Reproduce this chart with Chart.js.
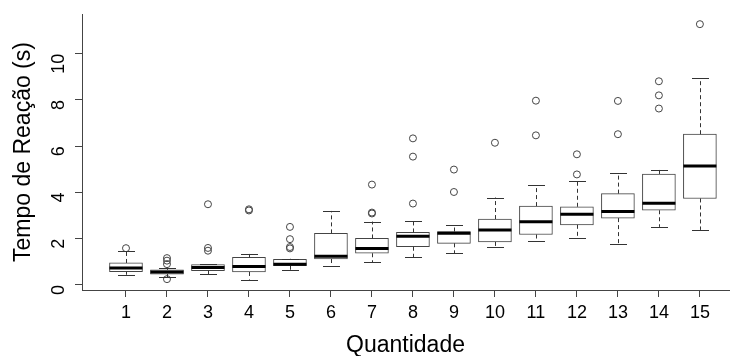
<!DOCTYPE html>
<html>
<head>
<meta charset="utf-8">
<script src="https://cdn.jsdelivr.net/npm/chart.js@4.4.1/dist/chart.umd.min.js"></script>
<style>
  body { margin: 0; background: #fff; }
</style>
</head>
<body>
<canvas id="box" width="734" height="356"></canvas>
<script>
// quantities on the x axis
const categories = [1, 2, 3, 4, 5, 6, 7, 8, 9, 10, 11, 12, 13, 14, 15];
// box stats (seconds)
const q1 = [0.57, 0.47, 0.62, 0.56, 0.83, 1.12, 1.37, 1.65, 1.80, 1.86, 2.18, 2.60, 2.89, 3.23, 3.74];
const medians = [0.73, 0.56, 0.75, 0.80, 0.89, 1.24, 1.58, 2.10, 2.24, 2.38, 2.73, 3.06, 3.18, 3.53, 5.14];
const q3 = [0.95, 0.65, 0.88, 1.19, 1.11, 2.23, 2.01, 2.27, 2.31, 2.85, 3.41, 3.38, 3.95, 4.80, 6.52];
const whiskerLow = [0.44, 0.33, 0.47, 0.23, 0.65, 0.82, 0.99, 1.19, 1.37, 1.66, 1.88, 2.03, 1.78, 2.51, 2.38];
const whiskerHigh = [1.48, 0.75, 0.89, 1.34, 1.13, 3.20, 2.74, 2.76, 2.60, 3.78, 4.32, 4.49, 4.83, 4.99, 8.94];
const outliers = [
    [1.59], [1.16, 1.05, 0.90, 0.25], [3.49, 1.60, 1.48], [3.27, 3.22], [2.51, 1.98, 1.64, 1.58],
    [], [4.34, 3.13, 3.09], [6.34, 5.55, 3.52], [4.99, 4.02], [6.15],
    [7.97, 6.47], [5.65, 4.78], [7.96, 6.52], [8.81, 8.20, 7.63], [11.28]
];
const yTicks = [0, 2, 4, 6, 8, 10];

// build data for the library
let boxData = categories.map(function (c, i) { return { x: c, y: [q1[i], q3[i]] }; });
let outlierData = [];
for (let i in categories) {
    outliers[i].forEach(function (v) { outlierData.push({ x: categories[i], y: v }); });
}

const BOX_W = 33;
const CAP_W = 17;

// whiskers + medians, drawn through the scales
const whiskerPlugin = {
    id: 'whiskers',
    afterDatasetsDraw(chart) {
        const ctx = chart.ctx;
        const xs = chart.scales.x, ys = chart.scales.y;
        ctx.save();
        ctx.strokeStyle = '#333';
        ctx.lineWidth = 1;
        categories.forEach(function (c, i) {
            const px = Math.round(xs.getPixelForValue(c)) + 0.5;
            // dashed whisker lines
            ctx.setLineDash([4, 3]);
            ctx.beginPath();
            ctx.moveTo(px, ys.getPixelForValue(q3[i]));
            ctx.lineTo(px, ys.getPixelForValue(whiskerHigh[i]));
            ctx.moveTo(px, ys.getPixelForValue(q1[i]));
            ctx.lineTo(px, ys.getPixelForValue(whiskerLow[i]));
            ctx.stroke();
            // caps
            ctx.setLineDash([]);
            ctx.beginPath();
            let yh = Math.round(ys.getPixelForValue(whiskerHigh[i])) + 0.5;
            let yl = Math.round(ys.getPixelForValue(whiskerLow[i])) + 0.5;
            ctx.moveTo(px - CAP_W / 2, yh);
            ctx.lineTo(px + CAP_W / 2, yh);
            ctx.moveTo(px - CAP_W / 2, yl);
            ctx.lineTo(px + CAP_W / 2, yl);
            ctx.stroke();
        });
        // medians
        ctx.strokeStyle = '#000';
        ctx.lineWidth = 3;
        categories.forEach(function (c, i) {
            const px = xs.getPixelForValue(c);
            const py = ys.getPixelForValue(medians[i]);
            ctx.beginPath();
            ctx.moveTo(px - BOX_W / 2, py);
            ctx.lineTo(px + BOX_W / 2, py);
            ctx.stroke();
        });
        ctx.restore();
    }
};

const ctx = document.getElementById('box').getContext('2d');
const chart = new Chart(ctx, {
    type: 'bar',
    data: {
        datasets: [{
            data: boxData,
            backgroundColor: '#ffffff',
            borderColor: '#444',
            borderWidth: 1,
            borderSkipped: false,
            barThickness: BOX_W,
            order: 2
        }, {
            type: 'scatter',
            data: outlierData,
            pointStyle: 'circle',
            pointRadius: 3.5,
            pointBorderWidth: 1,
            pointBorderColor: '#444',
            pointBackgroundColor: 'rgba(0,0,0,0)',
            order: 1
        }]
    },
    options: {
        responsive: false,
        animation: false,
        layout: { padding: { top: 14, right: 0, left: 0, bottom: 0 } },
        plugins: { legend: { display: false }, tooltip: { enabled: false } },
        scales: {
            x: {
                type: 'linear',
                offset: false,
                min: -0.073,
                max: 15.71,
                afterBuildTicks: function (s) { s.ticks = categories.map(function (v) { return { value: v }; }); },
                ticks: { font: { family: 'Liberation Sans', size: 18 }, color: '#000', padding: 5, maxRotation: 0, autoSkip: false },
                grid: { display: true, offset: false, drawOnChartArea: false, tickLength: 7, color: '#444' },
                border: { color: '#444', width: 1 },
                title: { display: true, text: 'Quantidade', font: { family: 'Liberation Sans', size: 23 }, color: '#000', padding: { top: 12, bottom: -3 } },
                afterFit: function (s) { s.height = 66; s.paddingLeft = 0; s.paddingRight = 0; }
            },
            y: {
                type: 'linear',
                min: -0.22,
                max: 11.72,
                afterBuildTicks: function (s) { s.ticks = yTicks.map(function (v) { return { value: v }; }); },
                ticks: { font: { family: 'Liberation Sans', size: 18 }, color: '#000', padding: 16, minRotation: 90, maxRotation: 90 },
                grid: { display: true, drawOnChartArea: false, tickLength: 7, color: '#444' },
                border: { color: '#444', width: 1 },
                title: { display: true, text: 'Tempo de Reação (s)', font: { family: 'Liberation Sans', size: 23 }, color: '#000', padding: { top: 10, bottom: 4 } },
                afterFit: function (s) { s.width = 82; s.paddingTop = 0; s.paddingBottom = 0; }
            }
        }
    },
    plugins: [whiskerPlugin]
});
</script>
</body>
</html>
